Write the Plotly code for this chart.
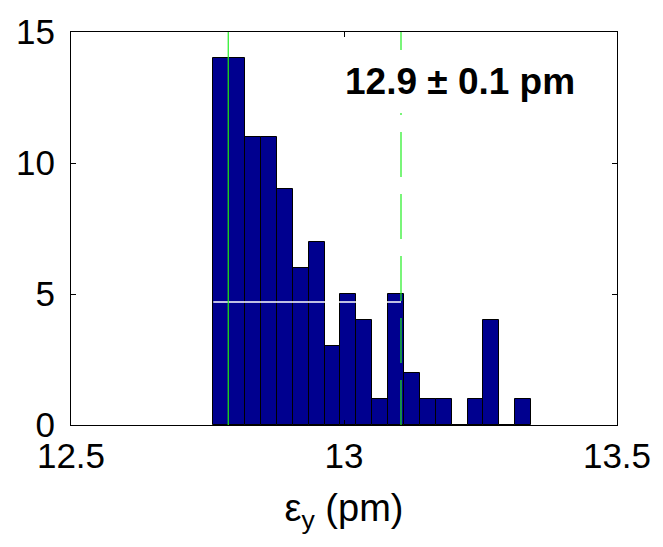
import plotly.graph_objects as go

# Histogram data
counts = [14, 14, 11, 11, 9, 6, 7, 3, 5, 4, 1, 5, 2, 1, 1, 0, 1, 4, 0, 1]
bin_start = 12.7606
bin_width = 0.02911

# Reference lines / labels
solid_line_x = 12.788
dashed_line_x = 13.1044
white_line_y = 4.69
annot_text = "12.9 ± 0.1 pm"
annot_x = 13.0
annot_y = 13.1

x_ticks = [12.5, 13, 13.5]
x_ticklabels = ["12.5", "13", "13.5"]
y_ticks = [0, 5, 10, 15]
y_ticklabels = ["0", "5", "10", "15"]
x_range = [12.5, 13.5]
y_range = [0, 15]

centers = [bin_start + bin_width * (i + 0.5) for i in range(len(counts))]

FONT = "Liberation Sans, Arial, Helvetica, sans-serif"

fig = go.Figure()
fig.add_trace(go.Bar(
    x=centers, y=counts, width=[bin_width] * len(counts),
    marker=dict(color="#00008F", line=dict(color="black", width=1)),
    showlegend=False, hoverinfo="skip",
))
# white horizontal line
fig.add_trace(go.Scatter(
    x=[bin_start, dashed_line_x], y=[white_line_y, white_line_y], mode="lines",
    line=dict(color="white", width=1.5), showlegend=False, hoverinfo="skip",
))
# solid green line
fig.add_trace(go.Scatter(
    x=[solid_line_x, solid_line_x], y=y_range, mode="lines",
    line=dict(color="#22ee22", width=1.2), showlegend=False, hoverinfo="skip",
))
# dash-dot green line
fig.add_trace(go.Scatter(
    x=[dashed_line_x, dashed_line_x], y=y_range, mode="lines",
    line=dict(color="#22ee22", width=1.2, dash="45px,17px"), showlegend=False, hoverinfo="skip",
))

fig.add_annotation(
    x=annot_x, y=annot_y, xref="x", yref="y", text="<b>" + annot_text + "</b>",
    showarrow=False, xanchor="left", yanchor="middle",
    font=dict(family=FONT, size=37, color="black"),
    bgcolor="white", borderpad=11, borderwidth=0, xshift=-10,
)

axis_common = dict(
    showgrid=False, zeroline=False, showline=True, linecolor="black", linewidth=1,
    mirror="ticks", ticks="inside", ticklen=5, tickcolor="black", tickwidth=1,
    tickfont=dict(family=FONT, size=35, color="black"),
)

fig.update_layout(
    width=663, height=547,
    margin=dict(l=71, r=44, t=27, b=122, pad=0),
    paper_bgcolor="white", plot_bgcolor="white",
    bargap=0,
    xaxis=dict(range=x_range, tickvals=x_ticks, ticktext=x_ticklabels,
               title=dict(text="ε<sub>y</sub> (pm)", font=dict(family=FONT, size=38, color="black"), standoff=20),
               ticklabelstandoff=0, **axis_common),
    yaxis=dict(range=y_range, tickvals=y_ticks, ticktext=y_ticklabels,
               ticklabelstandoff=8, **axis_common),
)

fig.write_html("out.html")
